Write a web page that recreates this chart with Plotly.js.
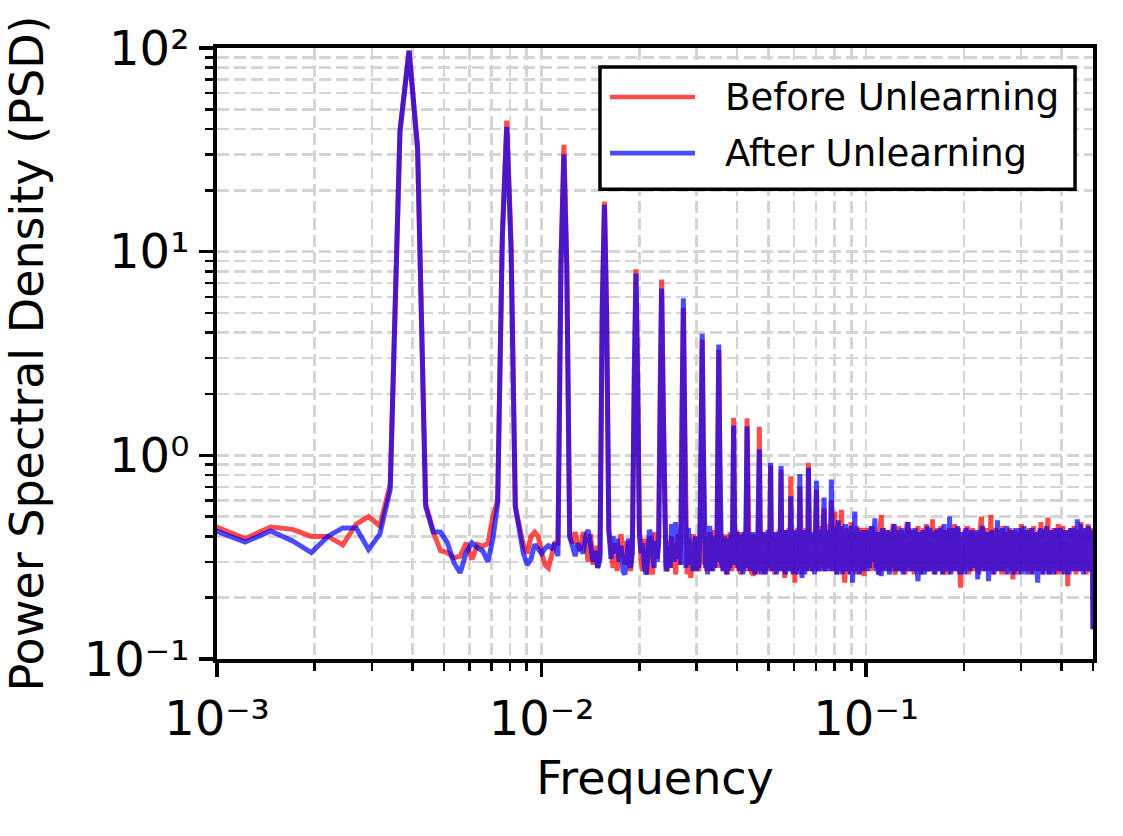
<!DOCTYPE html>
<html>
<head>
<meta charset="utf-8">
<script src="https://cdn.plot.ly/plotly-3.0.1.min.js"></script>
<style>
  html, body { margin: 0; padding: 0; background: #ffffff; }
  #chart { width: 1123px; height: 836px; }
</style>
</head>
<body>
<div id="chart"></div>
<script>
// Welch PSD of a 4096-point segment (fs = 1): bin k sits at frequency k / 4096.
const nfft = 4096;

// Frequency bins that are plotted: [first, last, step]
const binSegments = [[4, 271, 1], [272, 400, 2], [404, 800, 4], [808, 2048, 8]];

// PSD before unlearning
const psdBefore = [
  0.45, 0.39, 0.445, 0.433, 0.40, 0.40, 0.363, 0.46, 0.50, 0.45,
  0.72, 39, 97, 32, 0.58, 0.42, 0.34, 0.333, 0.314, 0.32,
  0.372, 0.308, 0.365, 0.358, 0.37, 0.50, 0.60, 12, 44, 11,
  0.56, 0.45, 0.36, 0.33, 0.40, 0.42, 0.40, 0.33, 0.29, 0.28,
  0.33, 0.37, 0.37, 9, 33.5, 8.5, 0.40, 0.37, 0.42, 0.36,
  0.34, 0.42, 0.38, 0.30, 0.41, 0.29, 0.36, 0.28, 0.33, 5.5,
  17.6, 5.0, 0.42, 0.33, 0.28, 0.37, 0.27, 0.36, 0.41, 0.33,
  0.29, 0.38, 0.30, 0.27, 0.36, 2.6, 8.2, 2.3, 0.43, 0.30,
  0.27, 0.39, 0.33, 0.26, 0.40, 0.28, 0.26, 0.35, 0.42, 0.31,
  0.40, 2.2, 7.3, 2.0, 0.41, 0.29, 0.27, 0.38, 0.30, 0.40,
  0.28, 0.37, 0.26, 0.35, 0.41, 0.29, 0.38, 1.6, 5.3, 1.5,
  0.27, 0.26, 0.39, 0.31, 0.25, 0.28, 0.41, 0.37, 0.27, 0.34,
  0.40, 0.27, 0.36, 1.1, 3.7, 1.1, 0.29, 0.40, 0.27, 0.38,
  0.30, 0.42, 0.35, 0.27, 0.40, 0.30, 0.43, 0.39, 0.28, 1.0,
  3.3, 1.0, 0.29, 0.40, 0.27, 0.37, 0.28, 0.41, 0.31, 0.26,
  0.39, 0.29, 0.42, 0.33, 0.27, 0.50, 1.53, 0.48, 0.33, 0.43,
  0.28, 0.42, 0.27, 0.39, 0.26, 0.37, 0.42, 0.28, 0.38, 0.27,
  0.40, 0.48, 1.52, 0.47, 0.38, 0.27, 0.41, 0.30, 0.26, 0.37,
  0.255, 0.36, 0.41, 0.27, 0.39, 0.26, 0.36, 0.44, 1.38, 0.42,
  0.27, 0.38, 0.42, 0.28, 0.40, 0.26, 0.37, 0.29, 0.41, 0.27,
  0.36, 0.42, 0.28, 0.40, 0.89, 0.37, 0.27, 0.40, 0.29, 0.42,
  0.26, 0.38, 0.28, 0.41, 0.30, 0.27, 0.39, 0.43, 0.28, 0.40,
  0.85, 0.29, 0.42, 0.27, 0.38, 0.28, 0.25, 0.40, 0.30, 0.43,
  0.27, 0.39, 0.28, 0.44, 0.27, 0.41, 0.79, 0.37, 0.27, 0.42,
  0.29, 0.26, 0.40, 0.237, 0.29, 0.41, 0.27, 0.38, 0.44, 0.28,
  0.40, 0.29, 0.70, 0.41, 0.27, 0.38, 0.26, 0.42, 0.30, 0.27,
  0.41, 0.28, 0.40, 0.27, 0.44, 0.30, 0.27, 0.41,
  // bins 272..400 step 2
  0.92, 0.28, 0.41, 0.30, 0.27, 0.40, 0.29, 0.43, 0.68, 0.28,
  0.27, 0.42, 0.30, 0.45, 0.28, 0.39, 0.55, 0.27, 0.41, 0.29,
  0.30, 0.46, 0.28, 0.40, 0.60, 0.27, 0.42, 0.31, 0.53, 0.28,
  0.40, 0.26, 0.47, 0.30, 0.27, 0.43, 0.54, 0.29, 0.41, 0.27,
  0.237, 0.42, 0.28, 0.44, 0.30, 0.26, 0.41, 0.29, 0.47, 0.27,
  0.40, 0.43, 0.28, 0.39, 0.26, 0.42, 0.45, 0.29, 0.41, 0.27,
  0.44, 0.30, 0.26, 0.40, 0.44,
  // bins 404..800 step 4
  0.255, 0.40, 0.44, 0.28, 0.41, 0.27, 0.45, 0.30, 0.28, 0.42,
  0.29, 0.26, 0.43, 0.51, 0.27, 0.44, 0.30, 0.28, 0.42, 0.27,
  0.43, 0.27, 0.40, 0.46, 0.28, 0.26, 0.42, 0.29, 0.45, 0.27,
  0.41, 0.27, 0.43, 0.29, 0.26, 0.42, 0.47, 0.28, 0.30, 0.44,
  0.27, 0.42, 0.29, 0.26, 0.43, 0.30, 0.27, 0.45, 0.28, 0.41,
  0.26, 0.42, 0.28, 0.44, 0.27, 0.40, 0.46, 0.27, 0.30, 0.43,
  0.28, 0.42, 0.27, 0.485, 0.29, 0.26, 0.43, 0.30, 0.27, 0.44,
  0.27, 0.41, 0.29, 0.45, 0.27, 0.42, 0.26, 0.30, 0.43, 0.28,
  0.42, 0.27, 0.30, 0.26, 0.44, 0.29, 0.27, 0.43, 0.41, 0.27,
  0.41, 0.46, 0.28, 0.42, 0.27, 0.30, 0.44, 0.27, 0.29, 0.224,
  // bins 808..2048 step 8
  0.40, 0.27, 0.43, 0.28, 0.45, 0.26, 0.41, 0.29, 0.44, 0.27,
  0.42, 0.27, 0.40, 0.26, 0.43, 0.50, 0.28, 0.41, 0.27, 0.44,
  0.27, 0.41, 0.29, 0.51, 0.27, 0.42, 0.26, 0.44, 0.30, 0.28,
  0.43, 0.27, 0.41, 0.26, 0.45, 0.29, 0.26, 0.42, 0.28, 0.41,
  0.29, 0.44, 0.27, 0.41, 0.246, 0.40, 0.43, 0.27, 0.42, 0.28,
  0.26, 0.42, 0.29, 0.46, 0.27, 0.41, 0.27, 0.43, 0.30, 0.28,
  0.42, 0.27, 0.44, 0.29, 0.26, 0.41, 0.28, 0.45, 0.27, 0.40,
  0.27, 0.42, 0.30, 0.27, 0.43, 0.29, 0.47, 0.27, 0.41, 0.26,
  0.41, 0.28, 0.44, 0.27, 0.42, 0.495, 0.29, 0.26, 0.43, 0.27,
  0.42, 0.27, 0.30, 0.44, 0.27, 0.41, 0.26, 0.43, 0.29, 0.46,
  0.27, 0.43, 0.29, 0.26, 0.42, 0.28, 0.45, 0.27, 0.41, 0.30,
  0.42, 0.27, 0.40, 0.228, 0.43, 0.29, 0.27, 0.44, 0.28, 0.41,
  0.27, 0.42, 0.29, 0.45, 0.27, 0.41, 0.26, 0.43, 0.30, 0.28,
  0.43, 0.28, 0.41, 0.27, 0.47, 0.29, 0.42, 0.27, 0.44, 0.30,
  0.27, 0.42, 0.29, 0.26, 0.43, 0.30, 0.46, 0.27, 0.41, 0.28,
  0.42, 0.27, 0.44, 0.29, 0.41, 0.14
];

// PSD after unlearning
const psdAfter = [
  0.43, 0.375, 0.425, 0.38, 0.333, 0.40, 0.44, 0.44, 0.345, 0.41,
  0.68, 39, 97, 32, 0.56, 0.42, 0.42, 0.372, 0.297, 0.265,
  0.333, 0.372, 0.352, 0.339, 0.30, 0.39, 0.58, 11.5, 41, 10,
  0.56, 0.44, 0.33, 0.29, 0.31, 0.365, 0.35, 0.33, 0.35, 0.36,
  0.35, 0.37, 0.32, 8.5, 30, 8, 0.40, 0.36, 0.32, 0.37,
  0.35, 0.33, 0.40, 0.43, 0.36, 0.30, 0.34, 0.28, 0.31, 5.2,
  17.0, 4.8, 0.44, 0.31, 0.40, 0.33, 0.39, 0.30, 0.36, 0.27,
  0.26, 0.35, 0.39, 0.28, 0.33, 2.4, 7.8, 2.2, 0.41, 0.33,
  0.37, 0.28, 0.26, 0.31, 0.43, 0.41, 0.33, 0.28, 0.38, 0.30,
  0.37, 2.0, 6.6, 1.9, 0.38, 0.27, 0.29, 0.36, 0.28, 0.46,
  0.39, 0.30, 0.47, 0.40, 0.31, 0.38, 0.29, 1.7, 5.9, 1.6,
  0.28, 0.31, 0.44, 0.37, 0.29, 0.36, 0.27, 0.35, 0.40, 0.27,
  0.38, 0.28, 0.41, 1.2, 3.95, 1.2, 0.40, 0.28, 0.38, 0.26,
  0.41, 0.45, 0.39, 0.29, 0.27, 0.38, 0.28, 0.40, 0.30, 1.05,
  3.5, 1.05, 0.40, 0.28, 0.38, 0.27, 0.40, 0.27, 0.26, 0.36,
  0.27, 0.39, 0.28, 0.41, 0.30, 0.47, 1.40, 0.45, 0.29, 0.40,
  0.42, 0.28, 0.39, 0.27, 0.38, 0.28, 0.41, 0.26, 0.37, 0.42,
  0.28, 0.45, 1.39, 0.44, 0.28, 0.40, 0.27, 0.39, 0.29, 0.42,
  0.28, 0.38, 0.26, 0.37, 0.42, 0.27, 0.40, 0.38, 1.07, 0.41,
  0.29, 0.26, 0.40, 0.28, 0.42, 0.27, 0.38, 0.26, 0.41, 0.29,
  0.43, 0.28, 0.38, 0.30, 0.92, 0.40, 0.27, 0.42, 0.27, 0.37,
  0.40, 0.28, 0.41, 0.26, 0.38, 0.42, 0.28, 0.40, 0.27, 0.43,
  0.886, 0.39, 0.27, 0.38, 0.42, 0.28, 0.40, 0.26, 0.38, 0.43,
  0.29, 0.41, 0.27, 0.38, 0.42, 0.30, 0.63, 0.41, 0.28, 0.40,
  0.26, 0.38, 0.43, 0.27, 0.40, 0.28, 0.41, 0.37, 0.26, 0.40,
  0.29, 0.42, 0.81, 0.30, 0.41, 0.27, 0.25, 0.38, 0.43, 0.28,
  0.40, 0.26, 0.41, 0.29, 0.42, 0.27, 0.40, 0.29,
  // bins 272..400 step 2
  0.87, 0.39, 0.28, 0.42, 0.27, 0.40, 0.26, 0.41, 0.75, 0.27,
  0.40, 0.29, 0.43, 0.27, 0.38, 0.44, 0.62, 0.29, 0.27, 0.42,
  0.28, 0.43, 0.40, 0.27, 0.76, 0.39, 0.27, 0.42, 0.44, 0.29,
  0.26, 0.41, 0.48, 0.27, 0.42, 0.29, 0.45, 0.26, 0.40, 0.28,
  0.41, 0.46, 0.29, 0.27, 0.42, 0.28, 0.43, 0.26, 0.45, 0.40,
  0.237, 0.38, 0.43, 0.53, 0.28, 0.41, 0.44, 0.27, 0.40, 0.26,
  0.42, 0.29, 0.39, 0.27, 0.43,
  // bins 404..800 step 4
  0.29, 0.43, 0.27, 0.42, 0.28, 0.45, 0.30, 0.46, 0.49, 0.27,
  0.30, 0.26, 0.42, 0.255, 0.44, 0.27, 0.41, 0.27, 0.43, 0.29,
  0.26, 0.42, 0.28, 0.41, 0.46, 0.27, 0.30, 0.43, 0.27, 0.41,
  0.28, 0.44, 0.26, 0.41, 0.29, 0.27, 0.42, 0.47, 0.27, 0.30,
  0.43, 0.27, 0.41, 0.28, 0.44, 0.30, 0.27, 0.241, 0.42, 0.26,
  0.41, 0.27, 0.43, 0.29, 0.26, 0.42, 0.28, 0.45, 0.27, 0.30,
  0.44, 0.28, 0.41, 0.27, 0.42, 0.29, 0.26, 0.43, 0.41, 0.27,
  0.30, 0.27, 0.44, 0.28, 0.42, 0.26, 0.41, 0.46, 0.27, 0.29,
  0.43, 0.28, 0.41, 0.27, 0.50, 0.30, 0.26, 0.42, 0.29, 0.44,
  0.27, 0.41, 0.43, 0.27, 0.30, 0.45, 0.28, 0.42, 0.26, 0.41,
  // bins 808..2048 step 8
  0.27, 0.42, 0.26, 0.44, 0.29, 0.41, 0.27, 0.43, 0.28, 0.42,
  0.29, 0.43, 0.246, 0.41, 0.27, 0.42, 0.45, 0.27, 0.40, 0.28,
  0.42, 0.241, 0.40, 0.27, 0.43, 0.26, 0.41, 0.29, 0.27, 0.48,
  0.28, 0.41, 0.27, 0.44, 0.29, 0.42, 0.27, 0.40, 0.45, 0.26,
  0.42, 0.27, 0.43, 0.28, 0.41, 0.26, 0.29, 0.44, 0.27, 0.41,
  0.40, 0.27, 0.44, 0.26, 0.42, 0.29, 0.45, 0.27, 0.41, 0.26,
  0.29, 0.43, 0.27, 0.41, 0.28, 0.44, 0.26, 0.40, 0.42, 0.27,
  0.41, 0.27, 0.237, 0.42, 0.28, 0.44, 0.27, 0.40, 0.26, 0.43,
  0.28, 0.42, 0.27, 0.45, 0.29, 0.41, 0.26, 0.43, 0.27, 0.40,
  0.27, 0.43, 0.29, 0.26, 0.42, 0.28, 0.44, 0.27, 0.41, 0.29,
  0.42, 0.27, 0.44, 0.40, 0.27, 0.43, 0.29, 0.41, 0.26, 0.42,
  0.28, 0.43, 0.27, 0.41, 0.29, 0.26, 0.42, 0.27, 0.44, 0.40,
  0.43, 0.27, 0.41, 0.27, 0.44, 0.29, 0.42, 0.27, 0.485, 0.28,
  0.27, 0.42, 0.29, 0.46, 0.27, 0.43, 0.28, 0.41, 0.26, 0.42,
  0.41, 0.27, 0.44, 0.29, 0.42, 0.27, 0.40, 0.45, 0.27, 0.43,
  0.28, 0.43, 0.27, 0.42, 0.29, 0.14
];

const seriesNames = ['Before Unlearning', 'After Unlearning'];
const seriesColors = ['rgb(255,0,0)', 'rgb(0,0,255)'];

const xTickVals = [0.001, 0.01, 0.1];
const xTickText = ['10\u207B\u00B3', '10\u207B\u00B2', '10\u207B\u00B9'];
const yTickVals = [0.1, 1, 10, 100];
const yTickText = ['10\u207B\u00B9', '10\u2070', '10\u00B9', '10\u00B2'];

// expand the bin segments into the frequency axis
const bins = [];
binSegments.forEach(([a, b, s]) => { for (let k = a; k <= b; k += s) bins.push(k); });
const freq = bins.map(k => k / nfft);

const FONT = 'DejaVu Sans, Liberation Sans, sans-serif';
const GRID = '#d5d5d5';

const traces = [psdBefore, psdAfter].map((vals, i) => ({
  type: 'scatter',
  mode: 'lines',
  x: freq,
  y: vals,
  name: seriesNames[i],
  opacity: 0.7,
  line: { color: seriesColors[i], width: 5 },
  showlegend: false,
  hoverinfo: 'skip'
}));

function axisStyle(extra) {
  return Object.assign({
    type: 'log',
    showline: true,
    mirror: true,
    linecolor: '#000',
    linewidth: 4,
    ticks: 'outside',
    ticklen: 14,
    tickwidth: 3.5,
    tickcolor: '#000',
    tickmode: 'array',
    tickfont: { family: FONT, size: 48, color: '#000' },
    showgrid: true,
    gridcolor: GRID,
    gridwidth: 2.5,
    griddash: '12px,5px',
    zeroline: false,
    minor: {
      tickmode: 'linear',
      dtick: 'D1',
      ticks: 'outside',
      ticklen: 8,
      tickwidth: 2.5,
      tickcolor: '#000',
      showgrid: true,
      gridcolor: GRID,
      gridwidth: 2.5,
      griddash: '12px,5px'
    }
  }, extra);
}

// legend drawn in paper coordinates (long line samples)
const legBox = { x0: 0.4372, x1: 0.9795, y0: 0.769, y1: 0.969 };
const legRows = [0.9197, 0.828];
const shapes = [
  { type: 'rect', xref: 'paper', yref: 'paper', x0: legBox.x0, x1: legBox.x1, y0: legBox.y0, y1: legBox.y1,
    line: { color: '#000', width: 3.5 }, fillcolor: '#fff', layer: 'above' }
];
const annotations = [];
seriesNames.forEach((name, i) => {
  shapes.push({ type: 'line', xref: 'paper', yref: 'paper', x0: 0.4486, x1: 0.5457, y0: legRows[i], y1: legRows[i],
    line: { color: seriesColors[i], width: 4.6 }, opacity: 0.7, layer: 'above' });
  annotations.push({ xref: 'paper', yref: 'paper', x: 0.5776, y: legRows[i], xanchor: 'left', yanchor: 'middle',
    text: name, showarrow: false, font: { family: FONT, size: 37, color: '#000' } });
});

const layout = {
  width: 1123,
  height: 836,
  margin: { l: 217, r: 30, t: 48, b: 177, pad: 0 },
  paper_bgcolor: '#fff',
  plot_bgcolor: '#fff',
  font: { family: FONT, color: '#000' },
  showlegend: false,
  xaxis: axisStyle({
    range: [-3, Math.log10(0.5)],
    tickvals: xTickVals,
    ticktext: xTickText,
    title: { text: 'Frequency', font: { family: FONT, size: 46, color: '#000' }, standoff: 18 }
  }),
  yaxis: axisStyle({
    range: [-1, 2],
    tickvals: yTickVals,
    ticktext: yTickText,
    title: { text: 'Power Spectral Density (PSD)', font: { family: FONT, size: 46, color: '#000' }, standoff: 33 }
  }),
  shapes: shapes,
  annotations: annotations
};

Plotly.newPlot('chart', traces, layout, { staticPlot: true, displayModeBar: false });
</script>
</body>
</html>
